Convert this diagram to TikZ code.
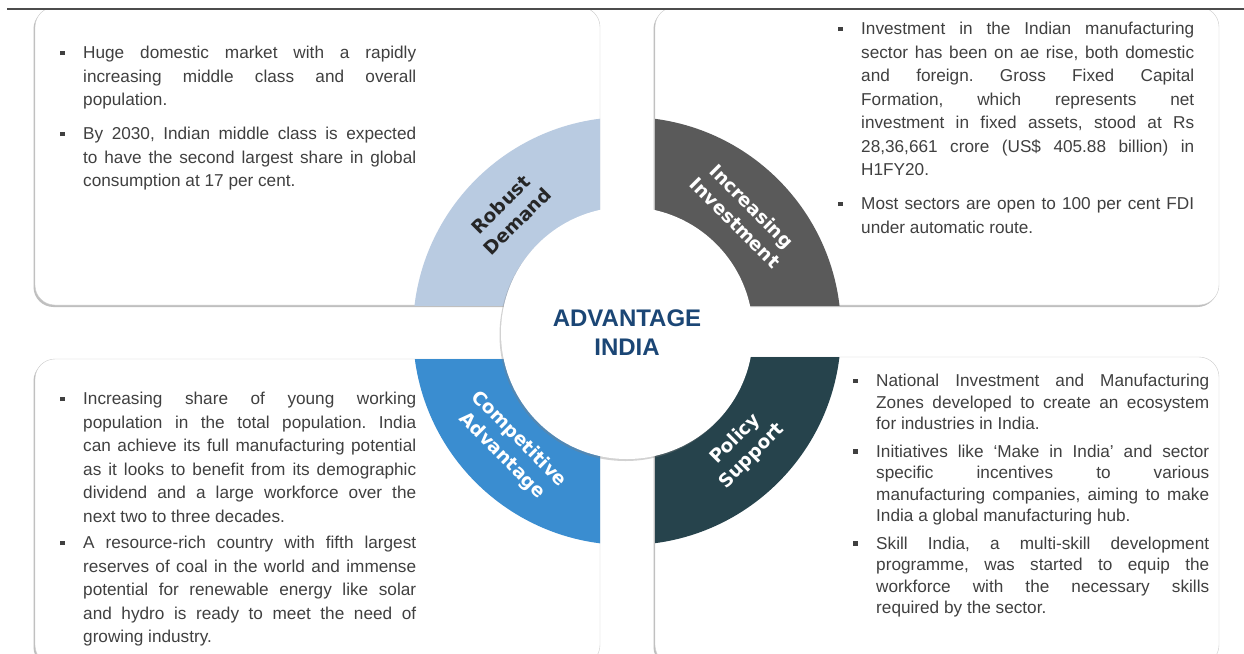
\documentclass[tikz,border=0pt]{standalone}
\usepackage{fontspec}
\setmainfont{Liberation Sans}
\newfontfamily\labelfont{DejaVu Sans}
\usepackage{enumitem}
\usepackage{xcolor}
\usetikzlibrary{shadows,calc}
\definecolor{robust}{HTML}{B9CBE1}
\definecolor{invest}{HTML}{5A5A5A}
\definecolor{compet}{HTML}{3A8DD0}
\definecolor{policy}{HTML}{26434C}
\definecolor{navy}{HTML}{1B4675}
\definecolor{bodytext}{HTML}{404040}
\hbadness=10000
\hfuzz=5pt
\frenchspacing
\newcommand{\sqbullet}{\raisebox{3.5pt}{\rule{4.5pt}{4.5pt}}}
\setlist[itemize]{label=\sqbullet,leftmargin=23pt,labelsep=18.5pt,labelwidth=4.5pt,parsep=0pt,topsep=0pt,partopsep=0pt}

\begin{document}
\begin{tikzpicture}[x=1pt,y=-1pt,
    panel/.style={draw=black!20,fill=white,rounded corners=20pt,drop shadow={shadow xshift=-1.5pt,shadow yshift=-2pt,opacity=.5}},
    bullets/.style={anchor=north west,inner sep=0pt,text width=356pt,align=justify,text=bodytext,font=\fontsize{17.2}{23.5}\selectfont},
    quadlabel/.style={align=center,inner sep=0pt,font=\labelfont\bfseries\fontsize{18.5}{23.5}\selectfont,text=white}]
\fill[white] (0,0) rectangle (1244,653);
\useasboundingbox (0,0) rectangle (1244,653);
\coordinate (ctr) at (627,331);
\begin{scope}
    \clip (0,9) rectangle (1244,653);
    \draw[panel] (35,7) rectangle (600,305);
    \draw[panel] (655,7) rectangle (1219,305);
    \draw[panel] (35,359) rectangle (600,665);
    \draw[panel] (655,357) rectangle (1219,665);
    \begin{scope}
        \clip (35,7) rectangle (600,305);
        \fill[robust] (ctr) circle (214pt);
    \end{scope}
    \begin{scope}
        \clip (655,7) rectangle (1219,305);
        \fill[invest] (ctr) circle (214pt);
    \end{scope}
    \begin{scope}
        \clip (35,359) rectangle (600,665);
        \fill[compet] (ctr) circle (214pt);
    \end{scope}
    \begin{scope}
        \clip (655,357) rectangle (1219,665);
        \fill[policy] (ctr) circle (214pt);
    \end{scope}
\end{scope}
\draw[black!70,line width=1.5pt] (7,9) -- (1244,9);

\node[circle,fill=white,inner sep=0pt,minimum size=252pt,drop shadow={shadow xshift=-1.5pt,shadow yshift=-2pt,opacity=.35},
      align=center,text=navy,font=\fontsize{24}{29}\selectfont\bfseries] (hub) at (627,333) {ADVANTAGE\\INDIA};

\node[quadlabel,text=black!85,rotate=45] (demand) at ($(ctr)+(135:167pt)$) {Robust\\Demand};
\node[quadlabel,rotate=-45] (investment) at ($(ctr)+(45:165pt)$) {Increasing\\Investment};
\node[quadlabel,rotate=-45] (advantage) at ($(ctr)+(-135:165pt)$) {Competitive\\Advantage};
\node[quadlabel,rotate=45] (support) at ($(ctr)+(-45:165pt)$) {Policy\\Support};

\node[bullets] (demandtxt) at (60,35) {\begin{itemize}[itemsep=10.5pt]
    \item Huge domestic market with a rapidly\linebreak increasing middle class and overall\linebreak population.
    \item By 2030, Indian middle class is expected\linebreak to have the second largest share in global\linebreak consumption at 17 per cent.
\end{itemize}};
\node[bullets] (investtxt) at (838,11) {\begin{itemize}[itemsep=10.5pt]
    \item Investment in the Indian manufacturing\linebreak sector has been on ae rise, both domestic\linebreak and foreign. Gross Fixed Capital\linebreak Formation, which represents net\linebreak investment in fixed assets, stood at Rs\linebreak 28,36,661 crore (US\$ 405.88 billion) in\linebreak H1FY20.
    \item Most sectors are open to 100 per cent FDI\linebreak under automatic route.
\end{itemize}};
\node[bullets] (advtxt) at (60,381) {\begin{itemize}[itemsep=3pt]
    \item Increasing share of young working\linebreak population in the total population. India\linebreak can achieve its full manufacturing potential\linebreak as it looks to benefit from its demographic\linebreak dividend and a large workforce over the\linebreak next two to three decades.
    \item A resource-rich country with fifth largest\linebreak reserves of coal in the world and immense\linebreak potential for renewable energy like solar\linebreak and hydro is ready to meet the need of\linebreak growing industry.
\end{itemize}};
\node[bullets,font=\fontsize{17.2}{21.4}\selectfont] (supporttxt) at (853,365) {\begin{itemize}[itemsep=6.5pt]
    \item National Investment and Manufacturing\linebreak Zones developed to create an ecosystem\linebreak for industries in India.
    \item Initiatives like `Make in India' and sector\linebreak specific incentives to various\linebreak manufacturing companies, aiming to make\linebreak India a global manufacturing hub.
    \item Skill India, a multi-skill development\linebreak programme, was started to equip the\linebreak workforce with the necessary skills\linebreak required by the sector.
\end{itemize}};
\end{tikzpicture}
\end{document}
